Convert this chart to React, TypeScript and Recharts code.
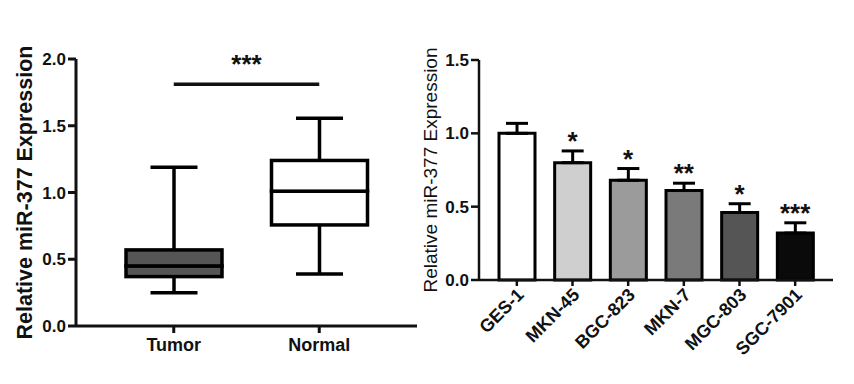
import React from 'react'
import {
  ComposedChart,
  Bar,
  Line,
  XAxis,
  YAxis,
  Cell,
  ErrorBar,
  ReferenceLine,
  Label,
} from 'recharts'

// left panel: box plot (tumor vs normal tissue)
const boxGroups = ['Tumor', 'Normal']
const boxMin = [0.25, 0.39]
const boxQ1 = [0.37, 0.757]
const boxMedian = [0.45, 1.01]
const boxQ3 = [0.57, 1.24]
const boxMax = [1.19, 1.556]
const boxFills = ['#555555', '#ffffff']
const boxTicks = [0, 0.5, 1, 1.5, 2]
const sigLineY = 1.81

// right panel: cell lines
const cellLines = ['GES-1', 'MKN-45', 'BGC-823', 'MKN-7', 'MGC-803', 'SGC-7901']
const cellMeans = [1.0, 0.8, 0.68, 0.61, 0.46, 0.32]
const cellErrors = [0.068, 0.08, 0.08, 0.05, 0.06, 0.07]
const cellSig = ['', '*', '*', '**', '*', '***']
const cellFills = ['#ffffff', '#cfcfcf', '#9b9b9b', '#7a7a7a', '#555555', '#0a0a0a']
const cellTicks = [0, 0.5, 1, 1.5]

const FONT = '"Liberation Sans", Arial, sans-serif'

const boxData = boxGroups.map((name, i) => ({
  name,
  fill: boxFills[i],
  base: boxMin[i],
  lowWhisker: boxQ1[i] - boxMin[i],
  lowBox: boxMedian[i] - boxQ1[i],
  highBox: boxQ3[i] - boxMedian[i],
  highWhisker: boxMax[i] - boxQ3[i],
}))

const cellData = cellLines.map((name, i) => ({
  name,
  mean: cellMeans[i],
  err: [0, cellErrors[i]],
  top: cellMeans[i] + cellErrors[i],
  sig: cellSig[i],
  fill: cellFills[i],
}))

const CAP = 23.5

const LowWhisker = (p: any) => {
  const cx = p.x + p.width / 2
  return (
    <g stroke="#000" strokeWidth={3.5}>
      <line x1={cx} y1={p.y} x2={cx} y2={p.y + p.height} />
      <line x1={cx - CAP} y1={p.y + p.height} x2={cx + CAP} y2={p.y + p.height} />
    </g>
  )
}

const HighWhisker = (p: any) => {
  const cx = p.x + p.width / 2
  return (
    <g stroke="#000" strokeWidth={3.5}>
      <line x1={cx} y1={p.y} x2={cx} y2={p.y + p.height} />
      <line x1={cx - CAP} y1={p.y} x2={cx + CAP} y2={p.y} />
    </g>
  )
}

const BoxPart = (p: any) => (
  <rect x={p.x} y={p.y} width={p.width} height={p.height} fill={p.payload.fill} stroke="#000" strokeWidth={3.5} />
)

const Nothing = () => <g />

const yLabel = (cx: number, size: number, weight: string) => (props: any) => {
  const vb = props.viewBox
  const cy = vb.y + vb.height / 2
  return (
    <text
      x={cx}
      y={cy}
      transform={`rotate(-90, ${cx}, ${cy})`}
      textAnchor="middle"
      dominantBaseline="central"
      fontSize={size}
      fontWeight={weight}
      fontFamily={FONT}
      fill="#111"
    >
      Relative miR-377 Expression
    </text>
  )
}

const SlantTick = (p: any) => (
  <g transform={`translate(${p.x + 8},${p.y + 8})`}>
    <text textAnchor="end" transform="rotate(-45)" fontSize={18} fontWeight="bold" fontFamily={FONT} fill="#111">
      {p.payload.value}
    </text>
  </g>
)

const StarDot = (p: any) => (
  <text
    key={`star-${p.index}`}
    x={p.cx}
    y={p.cy - 1}
    textAnchor="middle"
    fontSize={26}
    fontWeight="bold"
    fontFamily={FONT}
    fill="#111"
  >
    {p.payload.sig}
  </text>
)

export default function App() {
  return (
    <div style={{ position: 'absolute', left: 0, top: 0, width: 854, height: 384, background: '#fff', fontFamily: FONT }}>
      <div style={{ position: 'absolute', left: 0, top: 0 }}>
        <ComposedChart width={430} height={384} data={boxData} margin={{ top: 59, right: 13, bottom: 18, left: 0 }}>
          <XAxis
            dataKey="name"
            height={40}
            padding={{ left: 25, right: 25 }}
            axisLine={{ stroke: '#111', strokeWidth: 3 }}
            tickLine={{ stroke: '#111', strokeWidth: 3 }}
            tickSize={7}
            tickMargin={5}
            tick={{ fill: '#111', fontSize: 18, fontWeight: 'bold', fontFamily: FONT }}
          />
          <YAxis
            width={76}
            domain={[0, 2]}
            ticks={boxTicks}
            tickFormatter={(v: number) => v.toFixed(1)}
            axisLine={{ stroke: '#111', strokeWidth: 3 }}
            tickLine={{ stroke: '#111', strokeWidth: 3 }}
            tickSize={8}
            tickMargin={2}
            tick={{ fill: '#111', fontSize: 17, fontWeight: 'bold', fontFamily: FONT }}
          >
            <Label content={yLabel(25, 21.5, 'bold')} />
          </YAxis>
          <Bar dataKey="base" stackId="box" barSize={96} shape={<Nothing />} isAnimationActive={false} />
          <Bar dataKey="lowWhisker" stackId="box" barSize={96} shape={<LowWhisker />} isAnimationActive={false} />
          <Bar dataKey="lowBox" stackId="box" barSize={96} shape={<BoxPart />} isAnimationActive={false} />
          <Bar dataKey="highBox" stackId="box" barSize={96} shape={<BoxPart />} isAnimationActive={false} />
          <Bar dataKey="highWhisker" stackId="box" barSize={96} shape={<HighWhisker />} isAnimationActive={false} />
          <ReferenceLine
            segment={[
              { x: boxGroups[0], y: sigLineY },
              { x: boxGroups[1], y: sigLineY },
            ]}
            stroke="#111"
            strokeWidth={3.5}
            label={{ value: '***', position: 'top', offset: 11, fontSize: 26, fontWeight: 'bold', fill: '#111', fontFamily: FONT }}
          />
        </ComposedChart>
      </div>
      <div style={{ position: 'absolute', left: 420, top: 0 }}>
        <ComposedChart width={434} height={384} data={cellData} margin={{ top: 60, right: 21, bottom: 24, left: 0 }}>
          <XAxis
            dataKey="name"
            height={80}
            padding={{ left: 10, right: 10 }}
            interval={0}
            axisLine={{ stroke: '#111', strokeWidth: 2.5 }}
            tickLine={{ stroke: '#111', strokeWidth: 2.5 }}
            tickSize={6}
            tick={<SlantTick />}
          />
          <YAxis
            width={59}
            domain={[0, 1.5]}
            ticks={cellTicks}
            tickFormatter={(v: number) => v.toFixed(1)}
            axisLine={{ stroke: '#111', strokeWidth: 2.5 }}
            tickLine={{ stroke: '#111', strokeWidth: 2.5 }}
            tickSize={8}
            tickMargin={2}
            tick={{ fill: '#111', fontSize: 17, fontWeight: 'bold', fontFamily: FONT }}
          >
            <Label content={yLabel(10, 19, 'normal')} />
          </YAxis>
          <Bar dataKey="mean" barSize={36} stroke="#000" strokeWidth={3} isAnimationActive={false}>
            {cellData.map((d) => (
              <Cell key={d.name} fill={d.fill} />
            ))}
            <ErrorBar dataKey="err" direction="y" width={11} stroke="#000" strokeWidth={3} />
          </Bar>
          <Line dataKey="top" stroke="none" dot={StarDot} activeDot={false} legendType="none" isAnimationActive={false} />
        </ComposedChart>
      </div>
    </div>
  )
}
